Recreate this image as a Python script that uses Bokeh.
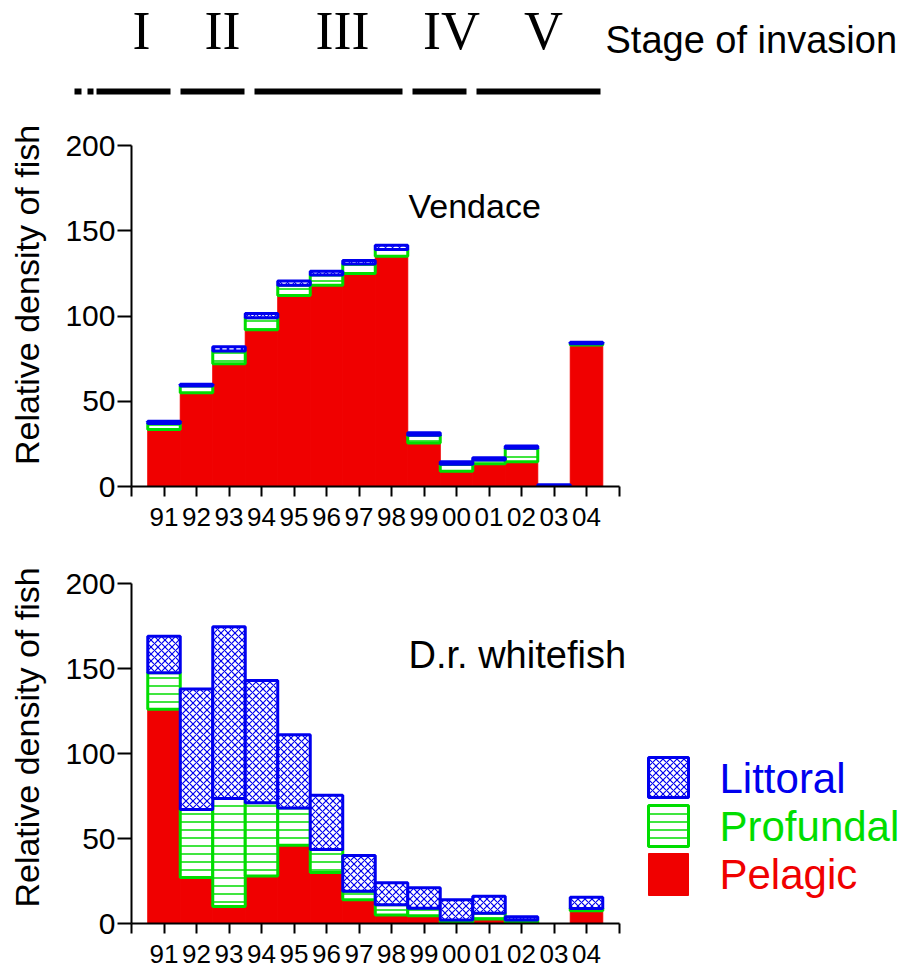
from bokeh.plotting import figure
from bokeh.layouts import column, row
from bokeh.models import Range1d, Label, FixedTicker
from bokeh.core.properties import value
from bokeh.embed import file_html
from bokeh.resources import INLINE

# ---------------- data ----------------
years = ["91", "92", "93", "94", "95", "96", "97", "98", "99", "00", "01", "02", "03", "04"]

vendace_pelagic = [33.5, 55, 72, 92, 112, 118, 125, 135, 25.5, 9, 13.3, 14.5, 0, 83]
vendace_profundal = [3.5, 4, 7.5, 7, 6, 6, 5.5, 4, 4.5, 4, 2.3, 8, 0, 0.7]
vendace_littoral = [1.3, 1, 2.5, 2.5, 2.5, 2.2, 2, 2.5, 1.5, 1.5, 1.2, 1.2, 1, 0.9]

whitefish_pelagic = [126, 27, 10, 28, 46, 30, 14, 5, 4.5, 0.5, 2.6, 0.6, 0, 7.5]
whitefish_profundal = [21.5, 40, 63.5, 43, 22, 13.5, 5, 6, 4.5, 1.5, 3.5, 1.4, 0, 1.3]
whitefish_littoral = [21.5, 71, 101, 72, 43, 32, 21, 13, 12, 12, 10, 2, 0, 6.7]

stage_labels = ["I", "II", "III", "IV", "V"]
y_ticks = [0, 50, 100, 150, 200]
series_names = ["Littoral", "Profundal", "Pelagic"]

# ---------------- styles ----------------
RED = "#F00000"
GREEN = "#00DD00"
BLUE = "#0000EE"
SANS = "Liberation Sans"

W = 910
LEFT = 131
PX_PER_YEAR = 32.5
N_SLOTS = len(years) + 1  # axis runs from 0 to 15
Y_MAX = 200


def stacked_panel(title, pel, pro, lit, width, height, b_top, b_bottom, b_right,
                  px_per_unit, title_y, title_size):
    frame_w = width - LEFT - b_right
    frame_h = height - b_top - b_bottom
    p = figure(width=width, height=height, output_backend="svg", toolbar_location=None,
               x_range=Range1d(0, frame_w / PX_PER_YEAR),
               y_range=Range1d(0, frame_h / px_per_unit),
               min_border_left=LEFT, min_border_right=b_right,
               min_border_top=b_top, min_border_bottom=b_bottom,
               outline_line_color=None, background_fill_color="white",
               frame_align=False)
    p.grid.visible = False
    xs = list(range(1, len(years) + 1))

    def bars(vals, bottoms, **kw):
        xx, bb, tt = [], [], []
        for x, v, b in zip(xs, vals, bottoms):
            if v > 0:
                xx.append(x)
                bb.append(b)
                tt.append(b + v)
        p.vbar(x=xx, bottom=bb, top=tt, width=1.0, **kw)

    zeros = [0] * len(years)
    pro_bottom = list(pel)
    lit_bottom = [a + b for a, b in zip(pel, pro)]
    bars(pel, zeros, fill_color=RED, line_color=RED, line_width=1)
    bars(pro, pro_bottom, fill_color="white", line_color=GREEN, line_width=3,
         hatch_pattern="-", hatch_color=GREEN, hatch_scale=8, hatch_weight=1.5)
    bars(lit, lit_bottom, fill_color="white", line_color=BLUE, line_width=3,
         hatch_pattern="x", hatch_color=BLUE, hatch_scale=7, hatch_weight=1.2)

    # axes
    p.xaxis.ticker = FixedTicker(ticks=list(range(0, N_SLOTS + 1)))
    p.xaxis.bounds = (0, N_SLOTS)
    overrides = {0: "", N_SLOTS: ""}
    for i, y in enumerate(years):
        overrides[i + 1] = y
    p.xaxis.major_label_overrides = overrides
    p.yaxis.ticker = FixedTicker(ticks=y_ticks)
    p.yaxis.bounds = (0, Y_MAX)
    for ax in (p.xaxis, p.yaxis):
        ax.axis_line_width = 2
        ax.axis_line_color = "black"
        ax.major_tick_line_width = 2
        ax.major_tick_line_color = "black"
        ax.major_tick_in = 0
        ax.minor_tick_line_color = None
        ax.major_label_text_color = "black"
        ax.major_label_text_font = SANS
    p.xaxis.major_tick_out = 10
    p.xaxis.major_label_standoff = 11
    p.xaxis.major_label_text_font_size = "26px"
    p.yaxis.major_tick_out = 14
    p.yaxis.major_label_standoff = 2
    p.yaxis.major_label_text_font_size = "30px"
    p.yaxis.axis_label = "Relative density of fish"
    p.yaxis.axis_label_text_font = SANS
    p.yaxis.axis_label_text_font_size = "34px"
    p.yaxis.axis_label_text_font_style = "normal"
    p.yaxis.axis_label_text_color = "black"
    p.yaxis.axis_label_standoff = 16

    p.add_layout(Label(x=(408 - LEFT) / PX_PER_YEAR, y=title_y, text=title,
                       text_align="left", text_baseline="alphabetic", text_font=SANS,
                       text_font_size=title_size, text_color="black"))
    return p


# ---------------- header ----------------
HDR_H = 100
hdr = figure(width=W, height=HDR_H, output_backend="svg", toolbar_location=None,
             x_range=Range1d(0, W), y_range=Range1d(HDR_H, 0),
             x_axis_type=None, y_axis_type=None, min_border=0,
             outline_line_color=None, frame_align=False)
hdr.text(x=[141, 222, 342, 451, 543], y=[30] * 5, text=stage_labels,
         text_font=value("Liberation Serif"), text_font_size="54px",
         text_align="center", text_baseline="alphabetic", text_color="black")
hdr.text(x=[605], y=[39], text=["Stage of invasion"], text_font=value(SANS),
         text_font_size="38px", text_align="left", text_baseline="alphabetic",
         text_color="black")
hdr.segment(x0=[74, 87, 96, 180, 254, 412, 476], x1=[81, 93, 170, 244, 402, 466, 600],
            y0=[91] * 7, y1=[91] * 7, line_width=6, line_color="black", line_cap="butt")

# ---------------- panels ----------------
vend = stacked_panel("Vendace", vendace_pelagic, vendace_profundal, vendace_littoral,
                     width=W, height=445, b_top=3, b_bottom=59, b_right=291,
                     px_per_unit=1.705, title_y=164.8, title_size="34px")
WF_W = 645
white = stacked_panel("D.r. whitefish", whitefish_pelagic, whitefish_profundal,
                      whitefish_littoral, width=WF_W, height=430, b_top=6, b_bottom=52,
                      b_right=2, px_per_unit=1.7, title_y=157.8, title_size="38px")

# ---------------- legend ----------------
leg = figure(width=W - WF_W, height=430, output_backend="svg", toolbar_location=None,
             x_range=Range1d(WF_W, W), y_range=Range1d(975, 545),
             x_axis_type=None, y_axis_type=None, min_border=0,
             outline_line_color=None, frame_align=False)
leg.quad(left=[648], right=[688], top=[757], bottom=[797], fill_color="white",
         line_color=BLUE, line_width=3, hatch_pattern="x", hatch_color=BLUE,
         hatch_scale=7, hatch_weight=1.2)
leg.quad(left=[648], right=[688], top=[805], bottom=[846], fill_color="white",
         line_color=GREEN, line_width=3, hatch_pattern="-", hatch_color=GREEN,
         hatch_scale=8, hatch_weight=1.5)
leg.quad(left=[648], right=[688], top=[853], bottom=[895], fill_color=RED,
         line_color=RED, line_width=1)
leg.text(x=[719, 719, 719], y=[778, 826, 874], text=series_names,
         text_color=[BLUE, GREEN, RED], text_font=value(SANS), text_font_size="42px",
         text_align="left", text_baseline="alphabetic")

layout = column(hdr, vend, row(white, leg, spacing=0), spacing=0)

open("out.html", "w").write(file_html(layout, INLINE))
